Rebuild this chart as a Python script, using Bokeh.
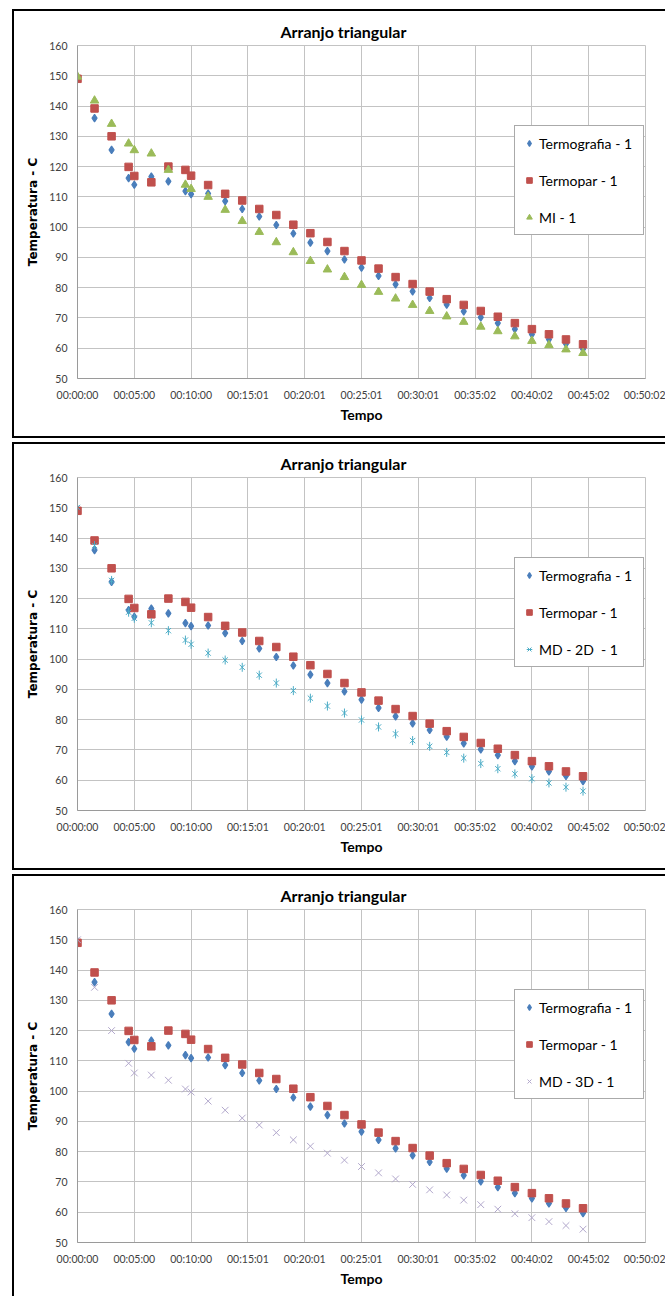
from bokeh.plotting import figure
from bokeh.models import Range1d, FixedTicker, Legend, LegendItem
from bokeh.layouts import column
from bokeh.embed import file_html
from bokeh.resources import INLINE
import math

# ---------------- data ----------------
chart_title = "Arranjo triangular"
x_label = "Tempo"
y_label = "Temperatura - C"

tick_minutes = [0, 5, 10, 15, 20, 25, 30, 35, 40, 45, 50]
tick_labels = ["00:00:00", "00:05:00", "00:10:00", "00:15:01", "00:20:01", "00:25:01",
               "00:30:01", "00:35:02", "00:40:02", "00:45:02", "00:50:02"]
y_ticks = [50, 60, 70, 80, 90, 100, 110, 120, 130, 140, 150, 160]

time_min = [0, 1.5, 3, 4.5, 5, 6.5, 8, 9.5, 10, 11.5, 13, 14.5, 16, 17.5, 19, 20.5,
            22, 23.5, 25, 26.5, 28, 29.5, 31, 32.5, 34, 35.5, 37, 38.5, 40, 41.5, 43, 44.5]

termografia = [149.5, 136.0, 125.5, 116.2, 114.0, 116.7, 115.1, 111.9, 110.9, 111.1, 108.6,
               106.0, 103.5, 100.7, 97.9, 94.9, 92.1, 89.3, 86.6, 83.9, 81.1, 78.8, 76.6,
               74.4, 72.2, 70.2, 68.3, 66.3, 64.6, 62.9, 61.4, 59.7]
termopar = [149.0, 139.2, 130.0, 119.9, 116.9, 114.8, 120.0, 118.9, 117.0, 113.9, 111.0,
            108.8, 106.0, 104.0, 100.8, 98.0, 95.1, 92.1, 89.0, 86.3, 83.5, 81.2, 78.7,
            76.2, 74.3, 72.3, 70.4, 68.3, 66.3, 64.6, 62.9, 61.3]
mi = [149.7, 141.8, 134.1, 127.6, 125.4, 124.3, 118.9, 114.0, 112.6, 110.0, 105.7, 102.0,
      98.4, 95.0, 91.7, 88.8, 86.0, 83.5, 80.9, 78.6, 76.4, 74.3, 72.3, 70.5, 68.7, 67.1,
      65.6, 63.9, 62.4, 61.0, 59.6, 58.4]
md2d = [150.1, 137.5, 126.0, 115.5, 113.5, 112.0, 109.4, 106.3, 104.9, 102.0, 99.7, 97.3,
        94.7, 92.1, 89.6, 87.1, 84.5, 82.2, 79.9, 77.6, 75.3, 73.1, 71.2, 69.2, 67.3, 65.5,
        63.8, 62.1, 60.5, 59.1, 57.7, 56.4]
md3d = [150.0, 134.3, 120.0, 109.2, 106.0, 105.3, 103.6, 100.7, 99.7, 96.7, 93.7, 91.1,
        88.8, 86.3, 83.9, 81.8, 79.5, 77.2, 75.1, 73.0, 71.0, 69.2, 67.4, 65.7, 64.0, 62.5,
        61.0, 59.5, 58.2, 56.9, 55.6, 54.4]

label_termografia = "Termografia - 1"
label_termopar = "Termopar - 1"
label_mi = "MI - 1"
label_md2d = "MD - 2D  - 1"
label_md3d = "MD - 3D - 1"

# ---------------- styles ----------------
BLUE = "#4A7EBB"
RED = "#C0504D"
GREEN = "#9BBB59"
CYAN = "#4BACC6"
LAVENDER = "#B2A8CC"
GRID = "#C3C3C3"
AXIS = "#9A9A9A"
TICK_TXT = "#404040"

FIG_W, FIG_H = 665, 432
B_LEFT, B_RIGHT, B_TOP, B_BOTTOM = 77, 20, 45, 54


def make_panel(kind):
    p = figure(width=FIG_W, height=FIG_H, output_backend="svg", toolbar_location=None,
               x_range=Range1d(0, 50), y_range=Range1d(50, 160),
               min_border_left=B_LEFT, min_border_right=B_RIGHT,
               min_border_top=B_TOP, min_border_bottom=B_BOTTOM,
               title=chart_title)
    p.background_fill_color = "white"
    p.border_fill_color = None
    p.border_fill_alpha = 0
    p.outline_line_color = GRID
    p.outline_line_width = 1

    p.title.align = "left"
    p.title.offset = 203
    p.title.text_font = "Lato"
    p.title.text_font_size = "16px"
    p.title.text_font_style = "bold"
    p.title.text_color = "black"

    p.xaxis.ticker = FixedTicker(ticks=tick_minutes)
    p.xaxis.major_label_overrides = {t: l for t, l in zip(tick_minutes, tick_labels)}
    p.yaxis.ticker = FixedTicker(ticks=y_ticks)
    for ax in (p.xaxis, p.yaxis):
        ax.axis_line_color = AXIS
        ax.major_tick_line_color = None
        ax.minor_tick_line_color = None
        ax.major_tick_out = 0
        ax.major_tick_in = 0
        ax.major_label_text_font = "Lato"
        ax.major_label_text_font_size = "10.5px"
        ax.major_label_text_color = TICK_TXT
        ax.major_label_standoff = 10
    p.xaxis.axis_label = x_label
    p.xaxis.axis_label_text_font = "Lato"
    p.xaxis.axis_label_text_font_size = "14px"
    p.xaxis.axis_label_text_font_style = "bold"
    p.xaxis.axis_label_text_color = "black"
    p.xaxis.axis_label_standoff = 2
    p.yaxis.axis_label = y_label
    p.yaxis.axis_label_text_font = "DejaVu Sans"
    p.yaxis.axis_label_text_font_size = "12px"
    p.yaxis.axis_label_text_font_style = "bold"
    p.yaxis.axis_label_text_color = "black"
    p.yaxis.axis_label_standoff = 6

    p.xgrid.ticker = FixedTicker(ticks=tick_minutes)
    p.ygrid.ticker = FixedTicker(ticks=y_ticks)
    p.xgrid.grid_line_color = GRID
    p.ygrid.grid_line_color = GRID

    r1 = p.scatter(time_min, termografia, marker="diamond", size=7.5,
                   fill_color=BLUE, line_color=BLUE, line_width=1.2)
    r2 = p.scatter(time_min, termopar, marker="square", size=7.5,
                   fill_color=RED, line_color=RED)
    items = [LegendItem(label=label_termografia, renderers=[r1]),
             LegendItem(label=label_termopar, renderers=[r2])]
    if kind == "mi":
        r3 = p.scatter(time_min, mi, marker="triangle", size=8.5,
                       fill_color=GREEN, line_color=GREEN)
        items.append(LegendItem(label=label_mi, renderers=[r3]))
    elif kind == "md2d":
        r3 = p.scatter(time_min, md2d, marker="x", size=7.5, line_color=CYAN, line_width=1)
        r4 = p.scatter(time_min, md2d, marker="dash", size=9, angle=math.pi / 2,
                       line_color=CYAN, line_width=1)
        items.append(LegendItem(label=label_md2d, renderers=[r3, r4]))
    else:
        r3 = p.scatter(time_min, md3d, marker="x", size=9.5, line_color=LAVENDER, line_width=1)
        items.append(LegendItem(label=label_md3d, renderers=[r3]))

    legend = Legend(items=items, location=(437, 143), orientation="vertical",
                    padding=7, spacing=17, margin=0,
                    label_height=20, glyph_height=20, glyph_width=14,
                    label_standoff=3, label_width=97,
                    label_text_font="Lato", label_text_font_size="14px",
                    label_text_color="black",
                    border_line_color="#555555", border_line_width=1,
                    background_fill_color="white", background_fill_alpha=1)
    p.add_layout(legend)
    return p


p1 = make_panel("mi")
p2 = make_panel("md2d")
p3 = make_panel("md3d")

# black panel frames drawn as CSS backgrounds of the page column: (x, y, w, h)
frame_lines = [
    (12, 8.5, 653, 2), (12, 8.5, 2, 429), (12, 435.5, 653, 2),
    (12, 441.5, 653, 2), (12, 441.5, 2, 428), (12, 867.5, 653, 2),
    (12, 873.5, 653, 2), (12, 873.5, 2, 430),
]
bg_styles = {
    "background-image": ", ".join(["linear-gradient(#000000, #000000)"] * len(frame_lines)),
    "background-position": ", ".join(f"{x}px {y}px" for x, y, w, h in frame_lines),
    "background-size": ", ".join(f"{w}px {h}px" for x, y, w, h in frame_lines),
    "background-repeat": "no-repeat",
    "background-color": "white",
}

layout = column(p1, p2, p3, spacing=0, styles=bg_styles)
open("out.html", "w").write(file_html(layout, INLINE))
